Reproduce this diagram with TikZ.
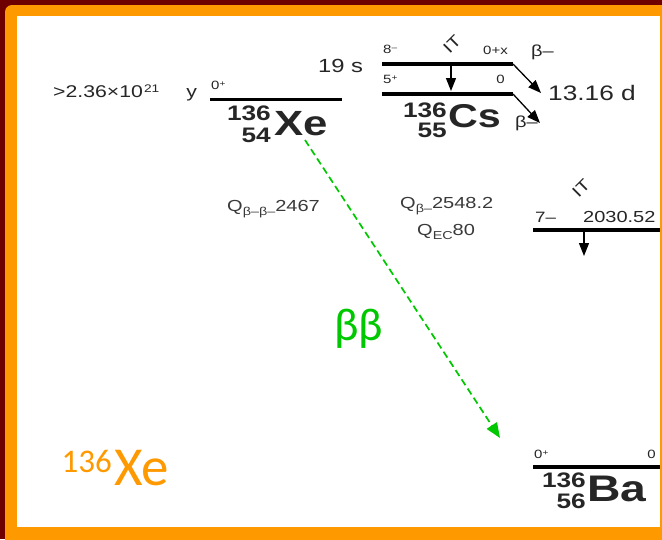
\documentclass[tikz,border=0pt]{standalone}
\usepackage{fontspec}
\setmainfont{Liberation Sans}
\newfontfamily\dg[FakeStretch=1.25]{Liberation Sans}
\newfontfamily\og{Carlito}
\usetikzlibrary{arrows.meta}
\newcommand{\fsz}[1]{\fontsize{#1}{#1}\selectfont}
\newcommand{\azstack}[4]{\fontsize{#1}{#2}\selectfont\begin{tabular}[t]{@{}r@{}}#3\\#4\end{tabular}}
\definecolor{frameRed}{HTML}{6E0000}
\definecolor{frameOrange}{HTML}{FF9900}
\definecolor{bbGreen}{HTML}{00C800}
\definecolor{txt}{HTML}{262626}
\definecolor{qtxt}{HTML}{3A3A3A}
\tikzset{
  lvl/.style={line width=3.2pt, line cap=butt},
  lbl/.style={inner sep=0pt, text=txt, font=\dg},
  qlbl/.style={inner sep=0pt, text=qtxt, font=\dg},
  nuc/.style={inner sep=0pt, text=txt, font=\dg\bfseries},
  blackarrow/.style={line width=1.3pt, -{Triangle[length=13pt,width=10pt]}},
  bbarrow/.style={line width=1.7pt, bbGreen, dash pattern=on 7pt off 4pt, -{Triangle[length=15pt,width=12pt]}}
}
\begin{document}
\begin{tikzpicture}[x=1pt,y=-1pt]
\useasboundingbox (0,0) rectangle (662,539);
\begin{scope}
\clip (0,0) rectangle (662,539);
\fill[frameRed] (0,0) rectangle (662,539);
\fill[frameOrange, rounded corners=7pt] (5,5) rectangle (680,560);
\fill[white] (17,16) rectangle (660,527);
\end{scope}

% Xe level
\coordinate (xeL) at (210,99.5);
\coordinate (xeR) at (342,99.5);
\draw[lvl] (xeL) -- (xeR);
\node[lbl, anchor=base west] (xehl) at (53,97) {\fsz{17}>2.36×10\hspace{1pt}\raisebox{4.5pt}{\fsz{11}21}\hspace{27pt}y};
\node[lbl, anchor=base west] (xesp) at (211,89) {\fsz{12}0\raisebox{3pt}{\fsz{8}+}};
\node[nuc, anchor=base west] (xe) at (274,135) {\fsz{35}Xe};
\node[nuc, anchor=base east] (xeAZ) at (271,120) {\azstack{21}{22}{136}{54}};

% Cs levels
\coordinate (csUL) at (382,64);
\coordinate (csUR) at (513,64);
\coordinate (csLL) at (382,94);
\coordinate (csLR) at (513,94);
\draw[lvl] (csUL) -- (csUR);
\draw[lvl] (csLL) -- (csLR);
\node[lbl, anchor=base west] (cs19) at (318,72) {\fsz{19}19 s};
\node[lbl, anchor=base west] (cs8) at (383,53) {\fsz{12}8\raisebox{3pt}{\fsz{8}–}};
\node[lbl, anchor=base east] (cs0x) at (508,54) {\fsz{12}0+x};
\node[lbl, anchor=base west] (cs5) at (383,83) {\fsz{12}5\raisebox{3pt}{\fsz{8}+}};
\node[lbl, anchor=base east] (cs0) at (505,83) {\fsz{12}0};
\node[lbl, rotate=45] (csIT) at (452,44) {\fsz{16}IT};
\coordinate (itTop) at (451,64);
\coordinate (itBot) at (451,91);
\draw[blackarrow] (itTop) -- (itBot);
\coordinate (bu) at (541,93);
\coordinate (bl) at (540,123);
\draw[blackarrow] (csUR) -- (bu);
\draw[blackarrow] (csLR) -- (bl);
\node[lbl, anchor=base west] (bul) at (531,56) {\fsz{16}β–};
\node[lbl, anchor=base west] (bll) at (515,127) {\fsz{16}β–};
\node[lbl, anchor=base west] (cshl) at (548,100) {\fsz{21}13.16 d};
\node[nuc, anchor=base west] (cs) at (448,127) {\fsz{33}Cs};
\node[nuc, anchor=base east] (csAZ) at (447,117) {\azstack{21}{20}{136}{55}};

% Q values
\node[qlbl, anchor=base west] (qbb) at (227,211) {\fsz{16}Q\raisebox{-4pt}{\fsz{11.5}β–β–}2467};
\node[qlbl, anchor=base west] (qb) at (400,208) {\fsz{16}Q\raisebox{-4pt}{\fsz{11.5}β–}2548.2};
\node[qlbl, anchor=base west] (qec) at (417,235) {\fsz{16}Q\raisebox{-4pt}{\fsz{11.5}EC}80};

% 7- level
\coordinate (s7L) at (533,230);
\coordinate (s7R) at (660,230);
\draw[lvl] (s7L) -- (s7R);
\node[lbl, anchor=base west] (s7) at (535,222) {\fsz{15}7–};
\node[lbl, anchor=base west] (s7e) at (583,222) {\fsz{16}2030.52};
\node[lbl, rotate=45] (s7IT) at (581,188) {\fsz{16}IT};
\coordinate (s7aT) at (584,230);
\coordinate (s7aB) at (584,256);
\draw[blackarrow] (s7aT) -- (s7aB);

% Ba level
\coordinate (baL) at (533,467);
\coordinate (baR) at (660,467);
\draw[lvl] (baL) -- (baR);
\node[lbl, anchor=base west] (basp) at (534,458) {\fsz{12}0\raisebox{3pt}{\fsz{8}+}};
\node[lbl, anchor=base east] (ba0) at (656,458) {\fsz{12}0};
\node[nuc, anchor=base west] (ba) at (587,501) {\fsz{37}Ba};
\node[nuc, anchor=base east] (baAZ) at (586,487) {\azstack{21}{21}{136}{56}};

% double beta arrow
\coordinate (bbS) at (305,140);
\coordinate (bbE) at (500,438);
\draw[bbarrow] (bbS) -- (bbE);
\node[inner sep=0pt, text=bbGreen, font=\og, anchor=base west] (bb) at (334,340) {\fsz{46}ββ};

% orange label
\node[inner sep=0pt, text=frameOrange, font=\og, anchor=base west] (oxe) at (114,485) {\fsz{55}Xe};
\node[inner sep=0pt, text=frameOrange, font=\og, anchor=base east] (oxeA) at (112,472) {\fsz{33}136};
\end{tikzpicture}
\end{document}
